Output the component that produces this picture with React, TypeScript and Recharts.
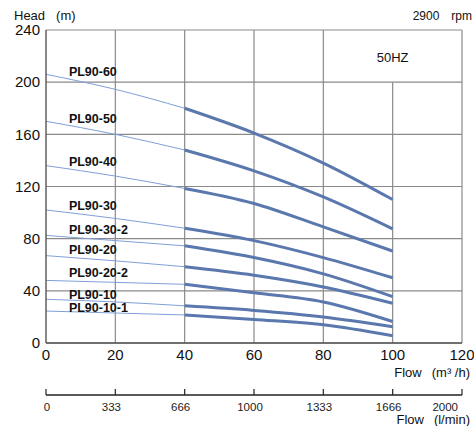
import React from "react";
import {
  CartesianGrid,
  Label,
  Line,
  LineChart,
  ReferenceDot,
  ReferenceLine,
  XAxis,
  YAxis,
} from "recharts";

// flow points (m3/h) where the head was read
const flowPoints = [0, 20, 40, 60, 80, 100];

// head (m) per pump model at each flow point
const pl90_60 = [206, 194.5, 180, 161, 138, 110];
const pl90_50 = [170, 160, 148, 132, 112, 87.5];
const pl90_40 = [136, 128, 118.5, 107, 89, 70.5];
const pl90_30 = [102, 95.5, 88, 78.5, 65.5, 50];
const pl90_30_2 = [82.5, 78.5, 74.5, 65.5, 53, 35.5];
const pl90_20 = [67, 63, 58.5, 52, 43, 30.5];
const pl90_20_2 = [48, 46.5, 45, 38.5, 31.5, 16.5];
const pl90_10 = [33.5, 31.5, 28.5, 25, 20, 12.5];
const pl90_10_1 = [24.5, 23, 21.5, 18, 14, 5.5];

const models = ["PL90-60", "PL90-50", "PL90-40", "PL90-30", "PL90-30-2", "PL90-20", "PL90-20-2", "PL90-10", "PL90-10-1"];
const heads = [pl90_60, pl90_50, pl90_40, pl90_30, pl90_30_2, pl90_20, pl90_20_2, pl90_10, pl90_10_1];

// where each model name sits (flow, head)
const labelFlow = 6.6;
const labelHead = [207.8, 172.5, 139.2, 105.4, 87.4, 72, 53.7, 37.2, 27.6];

const flowTicks = [0, 20, 40, 60, 80, 100, 120];
const litreTicks = ["0", "333", "666", "1000", "1333", "1666", "2000"];
const headTicks = [0, 40, 80, 120, 160, 200, 240];

// curve is drawn thin up to this flow, thick after it
const splitFlow = 40;

const rows = flowPoints.map((x, i) => {
  const row: Record<string, number | null> = { x };
  heads.forEach((h, k) => {
    row[`thin${k}`] = x <= splitFlow ? h[i] : null;
    row[`thick${k}`] = x >= splitFlow ? h[i] : null;
  });
  return row;
});

const font = "'Liberation Sans', Arial, sans-serif";
const grid = "#8a8a8a";
const M3 = 0;
const LMIN = 1;

function LitreTick(props: any) {
  const { x, y, index } = props;
  const last = index === litreTicks.length - 1;
  const dx = index === 0 ? 1 : -4;
  return (
    <g>
      <line x1={x} x2={x} y1={y - 6} y2={y} stroke="#222" strokeWidth={1.2} />
      <text
        x={x + dx}
        y={y + 16}
        textAnchor={last ? "end" : "middle"}
        fontSize={11.5}
        fontFamily={font}
        fill="#222"
      >
        {litreTicks[index]}
      </text>
    </g>
  );
}

function TwoPart({ x, y, a, b, gap, anchorEnd, size }: any) {
  return (
    <text x={x} y={y} textAnchor={anchorEnd ? "end" : "start"} fontSize={size} fontFamily={font} fill="#111">
      <tspan>{a}</tspan>
      <tspan dx={gap}>{b}</tspan>
    </text>
  );
}

export default function App() {
  return (
    <div style={{ position: "absolute", left: 0, top: 0, width: 474, height: 426, background: "#fff" }}>
      <LineChart width={474} height={426} data={rows} margin={{ top: 30, right: 12, bottom: 0, left: 0 }}>
        <CartesianGrid xAxisId={M3} vertical={false} stroke={grid} strokeWidth={1.2} />
        <XAxis
          xAxisId={M3}
          dataKey="x"
          type="number"
          domain={[0, 120]}
          ticks={flowTicks}
          height={52}
          tickLine={false}
          tickSize={4}
          tickMargin={2}
          axisLine={{ stroke: "#555", strokeWidth: 1.4 }}
          tick={{ fontSize: 15, fill: "#111", fontFamily: font }}
        >
          <Label
            content={({ viewBox }: any) => (
              <TwoPart x={viewBox.x + viewBox.width + 8} y={viewBox.y + 34} a="Flow" b="(m³ /h)" gap={10} anchorEnd size={13} />
            )}
          />
        </XAxis>
        <XAxis
          xAxisId={LMIN}
          dataKey="x"
          type="number"
          domain={[0, 120]}
          ticks={flowTicks}
          height={31}
          tickLine={false}
          tickSize={0}
          tickMargin={0}
          axisLine={{ stroke: "#222", strokeWidth: 1.4 }}
          tick={<LitreTick />}
        >
          <Label
            content={({ viewBox }: any) => (
              <TwoPart x={viewBox.x + viewBox.width + 8} y={viewBox.y + 29} a="Flow" b="(l/min)" gap={10} anchorEnd size={13} />
            )}
          />
        </XAxis>
        <YAxis
          type="number"
          domain={[0, 240]}
          ticks={headTicks}
          width={46}
          tickLine={false}
          tickSize={4}
          tickMargin={2}
          axisLine={{ stroke: "#555", strokeWidth: 1.4 }}
          tick={{ fontSize: 15, fill: "#111", fontFamily: font }}
        >
          <Label
            content={({ viewBox }: any) => (
              <g>
                <TwoPart x={14} y={viewBox.y - 10} a="Head" b="(m)" gap={11} size={13} />
                <TwoPart x={472} y={viewBox.y - 10} a="2900" b="rpm" gap={12} anchorEnd size={12} />
              </g>
            )}
          />
        </YAxis>

        {[20, 40, 60, 80, 120].map((v) => (
          <ReferenceLine key={v} xAxisId={M3} x={v} stroke={grid} strokeWidth={1.2} />
        ))}
        <ReferenceLine
          xAxisId={M3}
          segment={[
            { x: 100, y: 0 },
            { x: 100, y: 200 },
          ]}
          stroke={grid}
          strokeWidth={1.2}
        />

        {heads.map((_, k) => (
          <Line
            key={`thin${k}`}
            xAxisId={M3}
            type="monotone"
            dataKey={`thin${k}`}
            stroke="#7f9fd8"
            strokeWidth={1}
            dot={false}
            isAnimationActive={false}
          />
        ))}
        {heads.map((_, k) => (
          <Line
            key={`thick${k}`}
            xAxisId={M3}
            type="monotone"
            dataKey={`thick${k}`}
            stroke="#5a78ad"
            strokeWidth={3}
            dot={false}
            isAnimationActive={false}
          />
        ))}

        {models.map((name, k) => (
          <ReferenceDot
            key={name}
            xAxisId={M3}
            x={labelFlow}
            y={labelHead[k]}
            r={0}
            label={{
              content: ({ viewBox }: any) => (
                <text
                  x={viewBox.x}
                  y={viewBox.y}
                  dy="0.36em"
                  fontSize={12.5}
                  fontWeight="bold"
                  fontFamily={font}
                  fill="#111"
                >
                  {name}
                </text>
              ),
            }}
          />
        ))}
        <ReferenceDot
          xAxisId={M3}
          x={100}
          y={219.3}
          r={0}
          label={{
            content: ({ viewBox }: any) => (
              <text
                x={viewBox.x}
                y={viewBox.y}
                dy="0.36em"
                textAnchor="middle"
                fontSize={13}
                fontFamily={font}
                fill="#111"
              >
                50HZ
              </text>
            ),
          }}
        />
      </LineChart>
    </div>
  );
}
